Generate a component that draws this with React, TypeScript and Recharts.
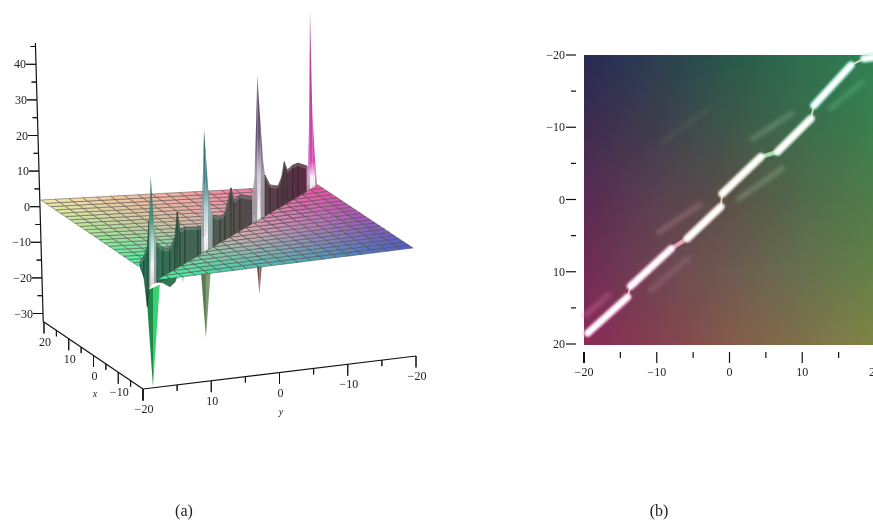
import React from "react";
import { ScatterChart, Scatter, XAxis, YAxis } from "recharts";

const W = 873, H = 524;
const SERIF = "'Liberation Serif','Times New Roman',serif";

// ---- panel (a) data ----
const gridLevels = [-20,-18,-16,-14,-12,-10,-8,-6,-4,-2,0,2,4,6,8,10,12,14,16,18,20];
const crestY = [19.56,18.67,17.93,17.56,17.33,17.18,16.89,16.44,15.84,14.44,12.89,11.78,11.27,10.67,9.56,6.67,6,5.67,5.44,5.33,5,4.44,3.78,3.33,1.78,0.67,-0.67,-1.33,-2.67,-5.33,-5.93,-6,-6.22,-6.51,-7.27,-7.78,-8.22,-9.33,-11.11,-11.93,-12.51,-13.18,-14.44,-15.56,-17.49,-17.84,-18.07,-18.22,-18.73,-19.33,-19.84,-20];
const crestTop = [0.9,2.05,4.2,11.5,18.4,23.7,18.2,9.5,4.1,1.9,1,3.5,10.2,4.8,5,3.4,3.3,13.2,24.3,30.1,24,13.3,5.7,4.8,3.4,3.9,10.2,6.4,7.1,5,10.8,15,24.1,38.3,23.5,14,9.5,6.1,4.8,6.8,10.8,8.1,8.8,8.7,6.8,6.6,22.2,49.9,21.2,7.4,-0.2,0];
const frontFloor = [-0.5,-4,-12.5,-8,-7.5,-7.5,-7];
const peakY = [17.18,5.33,-6.51,-18.22];
const peakZ = [23.7,30.1,38.3,49.9];
const dipY = [16.67,10,4.9,-7];
const dipZ = [-35.9,-10.5,-28.8,-23.2];
const dipBase = [-8,-4,-4.1,-9.5];
const dipHalf = [1.5,0.3,1.42,0.94];
const troughY = [15.78,11.11,11.11,11.78,12.89,14.44,15.78];
const troughZ = [-3.5,-6.2,-7.3,-9.2,-9.9,-7.9,-6.9];
const zTicks = [45,40,35,30,25,20,15,10,5,0,-5,-10,-15,-20,-25,-30];
const xTicks = [20,15,10,5,0,-5,-10,-15,-20];
const yTicks = [20,15,10,5,0,-5,-10,-15,-20];

// ---- panel (b) data ----
const axisTicks = [-20,-15,-10,-5,0,5,10,15,20];
const bandY = [[-19.5,-14],[-13.6,-8],[-5.8,-1.2],[-1,4.3],[6.6,11.2],[11.6,16.7],[18.5,20]];
const bandX = [[18.5,13.5],[12,6.8],[5.4,1],[-0.8,-5.9],[-6.6,-11.2],[-13,-18.6],[-19.5,-19.7]];
const neckY = [[-8,-5.8],[4.3,6.6]];
const neckX = [[6.8,5.4],[-5.9,-6.6]];
const streakY = [[-20,-16.4],[-11.1,-5.4],[-10,-3.8],[1,7.5],[2.9,8.9],[-9.5,-2.6],[13.7,18.5]];
const streakX = [[16.2,13],[12.8,7.9],[4.7,0.55],[0.1,-4.5],[-8.2,-12.1],[-7.7,-12.8],[-12.4,-16.5]];

// ---- palettes ----
const bandFringe = ["#f08ac8","#eea0d8","#e8d0c0","#e8e0c8","#c0e8c0","#7feccc","#8ff0d0"];
const neckTint = ["#e8a0b0","#a8e0b0"];
const streakTint = ["#c8608c","#a87890","#b07c88","#90a888","#80a888","#807868","#58b080"];
const streakAlpha = [0.55,0.4,0.5,0.5,0.5,0.2,0.5];
const shadeTable = [
  ["#282a54","#2a3e50","#27584a","#2d6e4e","#2f8252"],
  ["#3e2a50","#3e3e4c","#3e574a","#3c6c4c","#3a7e4e"],
  ["#5a2a52","#5a4050","#5a5048","#526a4a","#4f7c4a"],
  ["#702a55","#6e4450","#6e5a50","#66704e","#648048"],
  ["#8a2a58","#843f50","#845a4a","#80704a","#7f8545"],
];
const sheetTable = [
  ["#4a5cc8","#4fb0b0","#48f0a2"],
  ["#a058b8","#d8aab0","#a8e898"],
  ["#f44ea6","#f4a8a0","#f6eaa8"],
];
const peakTint = ["#3d9080","#3f7f82","#6a5878","#d845b5"];

// ---- helpers ----
type Pt = [number, number];
const rgb = (h: string) => [1, 3, 5].map((i) => parseInt(h.slice(i, i + 2), 16));
const mix = (a: string, b: string, t: number) => {
  const A = rgb(a), B = rgb(b);
  return "#" + A.map((v, i) => Math.round(v + (B[i] - v) * t).toString(16).padStart(2, "0")).join("");
};
const bi = (c00: string, c01: string, c10: string, c11: string, u: number, v: number) =>
  mix(mix(c00, c01, v), mix(c10, c11, v), u);

const backP = (x: number, y: number): Pt => {
  const a = (20 - x) / 40, b = (20 - y) / 40;
  return [41 + a * 97 + b * 277, 200 + a * 66 + b * -15];
};
const nearP = (x: number, y: number): Pt => {
  const a = (x + 20) / 40, b = (y + 20) / 40;
  return [413 + a * -95 + b * -256, 248 + a * -63 + b * 32];
};
const crestP = (y: number, z: number): Pt => [228 - 4.5 * y, 225.5 + 2.025 * y - 3.56 * z];
const sheetColor = (x: number, y: number) => {
  const u = Math.min(1.999, (x + 20) / 20), v = Math.min(1.999, (y + 20) / 20);
  const r = Math.floor(u), c = Math.floor(v);
  return bi(sheetTable[r][c], sheetTable[r][c + 1], sheetTable[r + 1][c], sheetTable[r + 1][c + 1], u - r, v - c);
};

const poly = (pts: Pt[], fill: string, stroke = "none", sw = 0, op = 1) => ({
  px: pts[0][0], py: pts[0][1],
  verts: pts.map((p) => [p[0] - pts[0][0], p[1] - pts[0][1]]),
  fill, stroke, sw, op,
});
const PolyShape = (props: any) => {
  const { cx, cy, payload: d } = props;
  return (
    <polygon
      points={d.verts.map((v: number[]) => `${cx + v[0]},${cy + v[1]}`).join(" ")}
      fill={d.fill} stroke={d.stroke} strokeWidth={d.sw} opacity={d.op}
    />
  );
};
const TextShape = (props: any) => {
  const { cx, cy, payload: d } = props;
  return (
    <text x={cx} y={cy} textAnchor={d.anchor} fontFamily={SERIF} fontSize={d.size} fontStyle={d.italic ? "italic" : "normal"} fill="#222">
      {d.label}
    </text>
  );
};
const label = (px: number, py: number, text: string, anchor = "middle", size = 12, italic = false) => ({ px, py, label: text, anchor, size, italic });

// ---- panel (a) layers ----
const GRID = "#4a4844";
const GW = 0.5;
const backCells: any[] = [];
const nearCells: any[] = [];
for (let i = 0; i < gridLevels.length - 1; i++) {
  for (let j = 0; j < gridLevels.length - 1; j++) {
    const x0 = gridLevels[i], x1 = gridLevels[i + 1], y0 = gridLevels[j], y1 = gridLevels[j + 1];
    const c = sheetColor((x0 + x1) / 2, (y0 + y1) / 2);
    const s = x0 + y0;
    if (s > -0.01) {
      backCells.push(poly([backP(x0, y0), backP(x1, y0), backP(x1, y1), backP(x0, y1)], c, GRID, GW));
    } else if (x1 + y1 < 0.01) {
      nearCells.push(poly([nearP(x0, y0), nearP(x1, y0), nearP(x1, y1), nearP(x0, y1)], c, GRID, GW));
    } else {
      backCells.push(poly([backP(x0, y1), backP(x1, y1), backP(x1, y0)], c, GRID, GW));
      nearCells.push(poly([nearP(x0, y0), nearP(x1, y0), nearP(x0, y1)], c, GRID, GW));
    }
  }
}
const wallColor = (y: number) =>
  y > 0 ? mix("#55554f", "#267a58", y / 20) : mix("#55554f", "#5a2440", -y / 20);
const wall: any[] = [];
const rim: any[] = [];
for (let i = 0; i < crestY.length - 1; i++) {
  const mid = (crestY[i] + crestY[i + 1]) / 2;
  let fill = wallColor(mid);
  peakY.forEach((p, k) => {
    const dist = mid - p;
    if (dist < (k === 0 ? 0.4 : 0.9) && dist > 0) fill = `url(#shade${k})`;
    else if (dist <= 0 && dist > -1.0) fill = `url(#lit${k})`;
    else if (dist <= -1.0 && dist > -1.9) fill = `url(#shade${k})`;
  });
  const f0 = frontFloor[i] ?? -7, f1 = frontFloor[i + 1] ?? -7;
  const plain = !fill.startsWith("url");
  wall.push(poly([crestP(crestY[i], crestTop[i]), crestP(crestY[i + 1], crestTop[i + 1]), crestP(crestY[i + 1], f1), crestP(crestY[i], f0)], fill, plain ? "#1c2420" : "none", 0.5));
  if (plain) {
    rim.push(poly([crestP(crestY[i], crestTop[i]), crestP(crestY[i + 1], crestTop[i + 1]), crestP(crestY[i + 1], crestTop[i + 1] - 0.9), crestP(crestY[i], crestTop[i] - 0.9)], "#e8e8e0", "none", 0, 0.2));
  }
}
const dipPalette = [["#1d8a48", "#38d070"], ["#2f7a50", "#3f8f60"], ["#5a7a52", "#809a72"], ["#6a4a48", "#8a6a60"]];
const dips: any[] = [];
dipY.forEach((y, k) => {
  const tip = crestP(y, dipZ[k]);
  const a = crestP(y + dipHalf[k], dipBase[k]), b = crestP(y, dipBase[k]), c = crestP(y - dipHalf[k], dipBase[k]);
  dips.push(poly([a, b, tip], dipPalette[k][0]));
  dips.push(poly([b, c, tip], dipPalette[k][1]));
});
const trough = [poly(troughY.map((y, i) => crestP(y, troughZ[i])), "#2f7a52", "#1c3c2c", 0.5)];

const zAt = (z: number): Pt => [40 - 0.1 * z, 206.7 - 3.56 * z];
const xAt = (x: number): Pt => { const t = (20 - x) / 40; return [44 + t * 99, 322 + t * 67]; };
const yAt = (y: number): Pt => { const t = (20 - y) / 40; return [143 + t * 273, 389 - t * 33]; };
const AX = "#111";
const axes: any[] = [
  poly([zAt(46), zAt(-32.5)], "none", AX, 1.2),
  poly([xAt(20), xAt(-20)], "none", AX, 1.2),
  poly([yAt(20), yAt(-20)], "none", AX, 1.2),
];
zTicks.forEach((z) => {
  const p = zAt(z), len = z % 10 === 0 ? 10 : 5;
  axes.push(poly([p, [p[0] - len, p[1]]], "none", AX, 1));
});
xTicks.forEach((x) => {
  const p = xAt(x), len = x % 10 === 0 ? 11.5 : 6;
  axes.push(poly([p, [p[0], p[1] + len]], "none", AX, 1));
});
yTicks.forEach((y) => {
  const p = yAt(y), len = y % 10 === 0 ? 11.5 : 6;
  axes.push(poly([p, [p[0], p[1] + len]], "none", AX, 1));
});
const fmt = (v: number) => (v < 0 ? "\u2212" + -v : String(v));
const labelsA: any[] = [
  ...zTicks.filter((z) => z % 10 === 0 && z <= 40).map((z) => { const p = zAt(z); return label(p[0] - 10, p[1] + 4, fmt(z), "end"); }),
  ...xTicks.filter((x) => x % 10 === 0).map((x) => { const p = xAt(x); return label(p[0] + 1, p[1] + 24, fmt(x)); }),
  ...yTicks.filter((y) => y % 10 === 0 && y < 20).map((y) => { const p = yAt(y); return label(p[0] + 1, p[1] + 24, fmt(y)); }),
  label(95, 397, "x", "middle", 10, true),
  label(281, 415, "y", "middle", 10, true),
  label(184, 516, "(a)", "middle", 16),
  label(659, 516, "(b)", "middle", 16),
];

// ---- panel (b) layers ----
const RASTER = 73;
const rasterStep = 40 / RASTER;
const rasterCells: any[] = [];
const shadeAt = (x: number, y: number) => {
  const u = Math.min(3.999, (x + 20) / 10), v = Math.min(3.999, (y + 20) / 10);
  const r = Math.floor(u), c = Math.floor(v);
  return bi(shadeTable[r][c], shadeTable[r][c + 1], shadeTable[r + 1][c], shadeTable[r + 1][c + 1], u - r, v - c);
};
for (let i = 0; i < RASTER; i++) {
  for (let j = 0; j < RASTER; j++) {
    const x = -20 + (i + 0.5) * rasterStep, y = -20 + (j + 0.5) * rasterStep;
    rasterCells.push({ h: y, v: x, fill: shadeAt(x, y) });
  }
}
const PLOT_PX = 291 / 40, PLOT_PY = 289 / 40;
const RasterShape = (props: any) => {
  const { cx, cy, payload } = props;
  const w = rasterStep * PLOT_PX + 1, h = rasterStep * PLOT_PY + 1;
  return <rect x={cx - w / 2} y={cy - h / 2} width={w} height={h} fill={payload.fill} shapeRendering="crispEdges" />;
};
const Nothing = () => <g />;
const pairs = (h: number[], v: number[]) => h.map((a, i) => ({ h: a, v: v[i] }));

const XTick = (props: any) => {
  const { x, y, payload } = props;
  const major = payload.value % 10 === 0;
  return (
    <g>
      <line x1={x} x2={x} y1={y} y2={y + (major ? 11 : 6)} stroke="#111" strokeWidth={payload.value === -20 ? 2 : 1.2} />
      {major && <text x={x} y={y + 24} textAnchor="middle" fontFamily={SERIF} fontSize={12} fill="#222">{fmt(payload.value)}</text>}
    </g>
  );
};
const YTick = (props: any) => {
  const { x, y, payload } = props;
  const major = payload.value % 10 === 0;
  return (
    <g>
      <line x1={x} x2={x - (major ? 10 : 5)} y1={y} y2={y} stroke="#111" strokeWidth={1.2} />
      {major && <text x={x - 11} y={y + 4} textAnchor="end" fontFamily={SERIF} fontSize={12} fill="#222">{fmt(payload.value)}</text>}
    </g>
  );
};

const Gradients = () => (
  <svg width={0} height={0} style={{ position: "absolute" }}>
    <defs>
      {peakY.map((y, k) => {
        const top = crestP(y, peakZ[k])[1], bottom = crestP(y, -7)[1];
        const hold = k === 3 ? 0.74 : 0.38;
        const soft = k === 3 ? 0.8 : 0.6;
        return (
          <React.Fragment key={k}>
            <linearGradient id={`lit${k}`} gradientUnits="userSpaceOnUse" x1={0} x2={0} y1={top} y2={bottom}>
              <stop offset="0" stopColor={mix(peakTint[k], "#303030", 0.35)} />
              <stop offset={hold} stopColor={peakTint[k]} />
              <stop offset={soft} stopColor={mix(peakTint[k], "#ffffff", 0.65)} />
              <stop offset="0.82" stopColor="#f4f4f4" />
              <stop offset="1" stopColor="#d8d8da" />
            </linearGradient>
            <linearGradient id={`shade${k}`} gradientUnits="userSpaceOnUse" x1={0} x2={0} y1={top} y2={bottom}>
              <stop offset="0" stopColor={mix(peakTint[k], "#303030", 0.35)} />
              <stop offset={hold} stopColor={mix(peakTint[k], "#303030", 0.1)} />
              <stop offset={soft} stopColor={mix(peakTint[k], "#d0d0d0", 0.55)} />
              <stop offset="1" stopColor="#9a9a9c" />
            </linearGradient>
          </React.Fragment>
        );
      })}
    </defs>
  </svg>
);

const layer = (key: string, data: any[], shape: any) => (
  <Scatter key={key} data={data} shape={shape} isAnimationActive={false} />
);

export default function App() {
  return (
    <div style={{ position: "absolute", left: 0, top: 0, width: W, height: H, overflow: "hidden", background: "#fff", filter: "blur(0.45px)" }}>
      <Gradients />
      <div style={{ position: "absolute", left: 0, top: 0 }}>
        <ScatterChart width={W} height={H} margin={{ top: 0, right: 0, bottom: 0, left: 0 }}>
          <XAxis type="number" dataKey="px" domain={[0, W]} hide />
          <YAxis type="number" dataKey="py" domain={[0, H]} reversed hide />
          {layer("dips", dips, PolyShape)}
          {layer("trough", trough, PolyShape)}
          {layer("back", backCells, PolyShape)}
          {layer("wall", wall, PolyShape)}
          {layer("rim", rim, PolyShape)}
          {layer("near", nearCells, PolyShape)}
          {layer("axes", axes, PolyShape)}
          {layer("labels", labelsA, TextShape)}
        </ScatterChart>
      </div>
      <div style={{ position: "absolute", left: 0, top: 0 }}>
        <ScatterChart width={900} height={H} margin={{ top: 55, right: 25, bottom: 150, left: 544 }}>
          <XAxis type="number" dataKey="h" domain={[-20, 20]} ticks={axisTicks} interval={0} height={30} tick={<XTick />} tickLine={false} axisLine={{ stroke: "#111", strokeWidth: 1.4 }} />
          <YAxis type="number" dataKey="v" domain={[-20, 20]} reversed ticks={axisTicks} interval={0} width={40} tick={<YTick />} tickLine={false} axisLine={false} />
          <Scatter data={rasterCells} shape={RasterShape} isAnimationActive={false} />
          {streakY.map((s, i) => (
            <Scatter key={"s" + i} data={pairs(s, streakX[i])} shape={Nothing} isAnimationActive={false}
              line={{ stroke: streakTint[i], strokeWidth: 5, strokeOpacity: streakAlpha[i], style: { filter: "blur(2.2px)" } }} />
          ))}
          <Scatter data={pairs(bandY.flat(), bandX.flat())} shape={Nothing} isAnimationActive={false}
            line={{ stroke: "#f0e6d4", strokeWidth: 1.8, strokeOpacity: 0.9, strokeLinejoin: "round" }} />
          {neckY.map((s, i) => (
            <Scatter key={"n" + i} data={pairs(s, neckX[i])} shape={Nothing} isAnimationActive={false}
              line={{ stroke: neckTint[i], strokeWidth: 4.5, strokeOpacity: 0.85, style: { filter: "blur(0.7px)" } }} />
          ))}
          {bandY.map((s, i) => (
            <Scatter key={"f" + i} data={pairs(s, bandX[i])} shape={Nothing} isAnimationActive={false}
              line={{ stroke: bandFringe[i], strokeWidth: 8.5, strokeOpacity: 0.7, strokeLinecap: "round", style: { filter: "blur(1.2px)" } }} />
          ))}
          {bandY.map((s, i) => (
            <Scatter key={"b" + i} data={pairs(s, bandX[i])} shape={Nothing} isAnimationActive={false}
              line={{ stroke: "#ffffff", strokeWidth: 6, strokeLinecap: "round", style: { filter: "blur(1px)" } }} />
          ))}
        </ScatterChart>
      </div>
    </div>
  );
}
